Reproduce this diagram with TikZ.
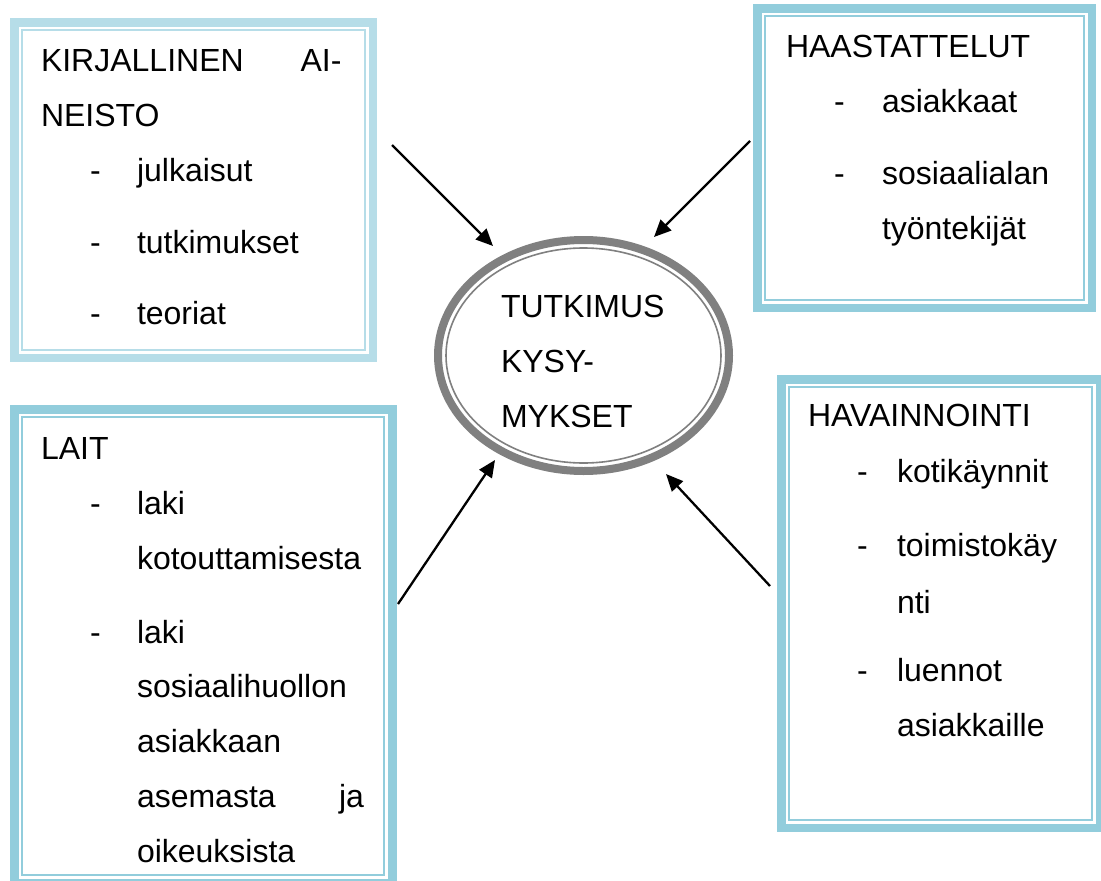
\documentclass[tikz,border=0pt]{standalone}
\usepackage{fontspec}
\setmainfont{Liberation Sans}
\usetikzlibrary{arrows.meta,shapes.geometric}
\definecolor{aqualight}{HTML}{B6DDE8}
\definecolor{aqua}{HTML}{92CDDC}
\definecolor{ringgray}{HTML}{808080}

\tikzset{
  txt/.style={anchor=base west, inner sep=0pt, outer sep=0pt, font=\fontsize{32}{32}\selectfont},
  txtr/.style={txt, anchor=base east},
  band/.style={draw=#1, line width=8.5pt, inner sep=0pt, outer sep=0pt, rectangle},
  thinframe/.style={draw=#1, line width=2.4pt},
  flow/.style={line width=2.3pt, -{Triangle[length=17pt,width=15pt]}},
}

\begin{document}
\begin{tikzpicture}[x=1pt, y=-1pt]
\useasboundingbox (0,0) rectangle (1101,881);
\fill[white] (0,0) rectangle (1101,881);

\begin{scope}
\clip (0,0) rectangle (1101,881);
% source boxes: thick outer band with a thin inner line
\node[band=aqualight, minimum width=358.5pt, minimum height=335.5pt] (kirj) at (193.5,190) {};
\draw[thinframe=aqualight] ([shift={(8,8)}]kirj.north west) rectangle ([shift={(-8,-8)}]kirj.south east);

\node[band=aqua, minimum width=334.5pt, minimum height=299.5pt] (haas) at (924.5,158) {};
\draw[thinframe=aqua] ([shift={(8,8)}]haas.north west) rectangle ([shift={(-8,-8)}]haas.south east);

\node[band=aqua, minimum width=378pt, minimum height=473.5pt] (lait) at (203.25,646) {};
\draw[thinframe=aqua] ([shift={(8,8)}]lait.north west) rectangle ([shift={(-8,-8)}]lait.south east);

\node[band=aqua, minimum width=318.5pt, minimum height=448.5pt] (hava) at (940.5,603.5) {};
\draw[thinframe=aqua] ([shift={(8,8)}]hava.north west) rectangle ([shift={(-8,-8)}]hava.south east);
\end{scope}

% central ellipse
\node[ellipse, draw=ringgray, line width=8pt, inner sep=0pt, minimum width=291pt, minimum height=231pt] (kys) at (583.5,355.5) {};
\draw[ringgray, line width=1.6pt] (kys.center) ellipse [x radius=137.5, y radius=107.5];

% texts of the ellipse
\node[txt] (k1) at (501,317) {TUTKIMUS};
\node[txt] (k2) at (501,372) {KYSY-};
\node[txt] (k3) at (501,427) {MYKSET};

% KIRJALLINEN AINEISTO
\node[txt] (a0) at (41,71) {KIRJALLINEN};
\node[txtr] (a0r) at (341.5,71) {AI-};
\node[txt] (a1) at (41,126) {NEISTO};
\node[txt] (a2d) at (90,181) {-};
\node[txt] (a2) at (137,181) {julkaisut};
\node[txt] (a3d) at (90,253) {-};
\node[txt] (a3) at (137,253) {tutkimukset};
\node[txt] (a4d) at (90,324) {-};
\node[txt] (a4) at (137,324) {teoriat};

% HAASTATTELUT
\node[txt] (h0) at (786,57) {HAASTATTELUT};
\node[txt] (h1d) at (834,112) {-};
\node[txt] (h1) at (882,112) {asiakkaat};
\node[txt] (h2d) at (834,184) {-};
\node[txt] (h2) at (882,184) {sosiaalialan};
\node[txt] (h3) at (882,239) {työntekijät};

% LAIT
\node[txt] (l0) at (41,459) {LAIT};
\node[txt] (l1d) at (90,514) {-};
\node[txt] (l1) at (137,514) {laki};
\node[txt] (l2) at (137,569) {kotouttamisesta};
\node[txt] (l3d) at (90,643) {-};
\node[txt] (l3) at (137,643) {laki};
\node[txt] (l4) at (137,697) {sosiaalihuollon};
\node[txt] (l5) at (137,752) {asiakkaan};
\node[txt] (l6) at (137,807) {asemasta};
\node[txtr] (l6r) at (364,807) {ja};
\node[txt] (l7) at (137,862) {oikeuksista};

% HAVAINNOINTI
\node[txt] (v0) at (808,426) {HAVAINNOINTI};
\node[txt] (v1d) at (857,482) {-};
\node[txt] (v1) at (897,482) {kotikäynnit};
\node[txt] (v2d) at (857,556) {-};
\node[txt] (v2) at (897,556) {toimistokäy};
\node[txt] (v3) at (897,613) {nti};
\node[txt] (v4d) at (857,681) {-};
\node[txt] (v4) at (897,681) {luennot};
\node[txt] (v5) at (897,736) {asiakkaille};

% arrows towards the research questions
\coordinate (s1) at (392,145);  \coordinate (e1) at (493,246);
\coordinate (s2) at (750,141);  \coordinate (e2) at (654,237);
\coordinate (s3) at (398,604);  \coordinate (e3) at (495,460);
\coordinate (s4) at (770,586);  \coordinate (e4) at (666,474);
\draw[flow] (s1) -- (e1);
\draw[flow] (s2) -- (e2);
\draw[flow] (s3) -- (e3);
\draw[flow] (s4) -- (e4);
\end{tikzpicture}
\end{document}
